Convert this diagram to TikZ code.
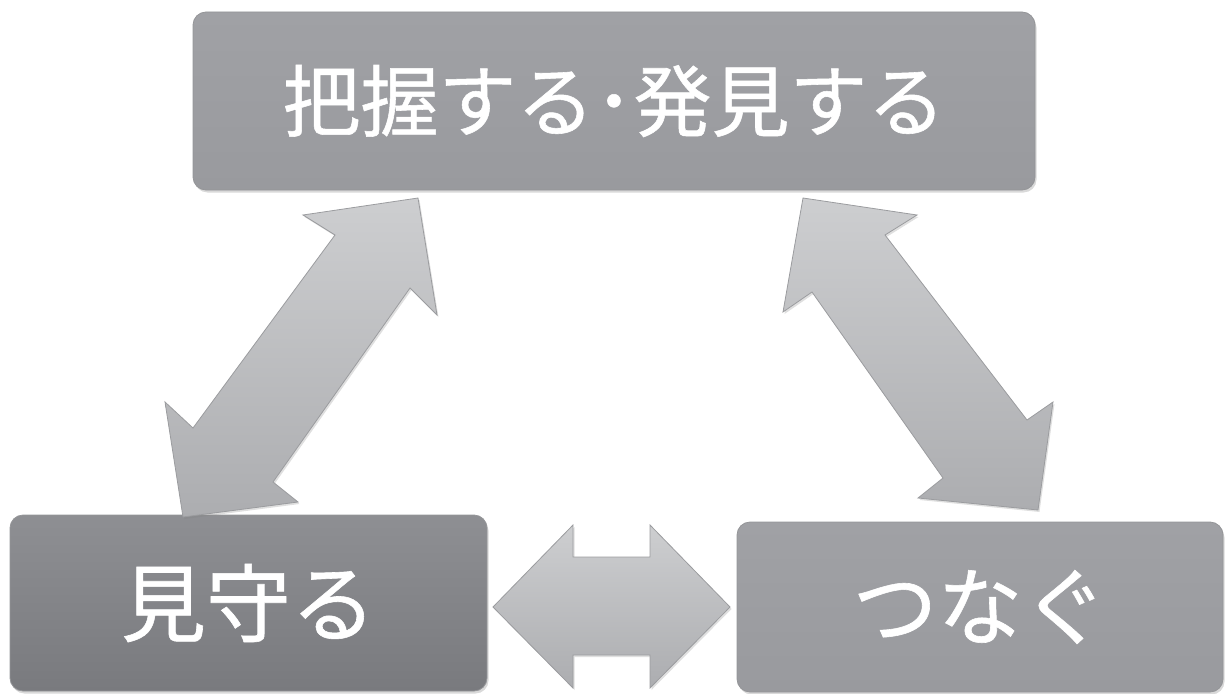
\documentclass[tikz,border=0pt]{standalone}
\usepackage{fontspec}
\newfontfamily\jpfont[FakeBold=0.7]{Noto Sans CJK JP}
\usetikzlibrary{shadows}
\definecolor{boxA}{HTML}{A0A1A5}
\definecolor{boxB}{HTML}{999A9E}
\definecolor{boxC}{HTML}{8E8F93}
\definecolor{boxD}{HTML}{797A7E}
\definecolor{arrTop}{HTML}{CDCED0}
\definecolor{arrBot}{HTML}{ACADB0}
\definecolor{arrEdge}{HTML}{9B9C9F}
\tikzset{
  box/.style={rounded corners=13pt, draw=boxD!80, line width=0.8pt,
    drop shadow={opacity=0.3, shadow xshift=1.5pt, shadow yshift=-2.5pt},
    text=white, inner sep=0pt, font=\jpfont},
  blockarrow/.style={draw=arrEdge, line width=0.8pt, line join=miter,
    top color=arrTop, bottom color=arrBot,
    drop shadow={opacity=0.25, shadow xshift=1.5pt, shadow yshift=-2pt}},
}
\begin{document}
\begin{tikzpicture}[x=1pt,y=-1pt]
\useasboundingbox (0,0) rectangle (1225,693);
% boxes
\node[box, top color=boxA, bottom color=boxB, minimum width=842pt, minimum height=178pt,
      font=\jpfont\fontsize{78}{80}\selectfont] (top) at (614,101) {把握する･発見する};
\node[box, top color=boxC, bottom color=boxD, minimum width=477pt, minimum height=176pt,
      font=\jpfont\fontsize{85}{88}\selectfont] (left) at (248.5,603) {見守る};
\node[box, top color=boxA, bottom color=boxB, minimum width=486pt, minimum height=170pt,
      font=\jpfont\fontsize{85}{88}\selectfont] (right) at (980,607) {つなぐ};
% left diagonal arrow
\path[blockarrow] (418,198) -- (437,315) -- (410,288) -- (273,482) -- (298,502)
  -- (183,517) -- (165,402) -- (193,428) -- (335,235) -- (303,215) -- cycle;
% right diagonal arrow
\path[blockarrow] (803,198) -- (917,215) -- (885,235) -- (1027,420) -- (1053,402)
  -- (1038,510) -- (918,498) -- (943,478) -- (812,292) -- (783,312) -- cycle;
% horizontal arrow
\path[blockarrow] (493,607) -- (573,525) -- (573,557) -- (650,557) -- (650,525)
  -- (730,607) -- (650,688) -- (650,655) -- (573,655) -- (573,688) -- cycle;
\end{tikzpicture}
\end{document}
